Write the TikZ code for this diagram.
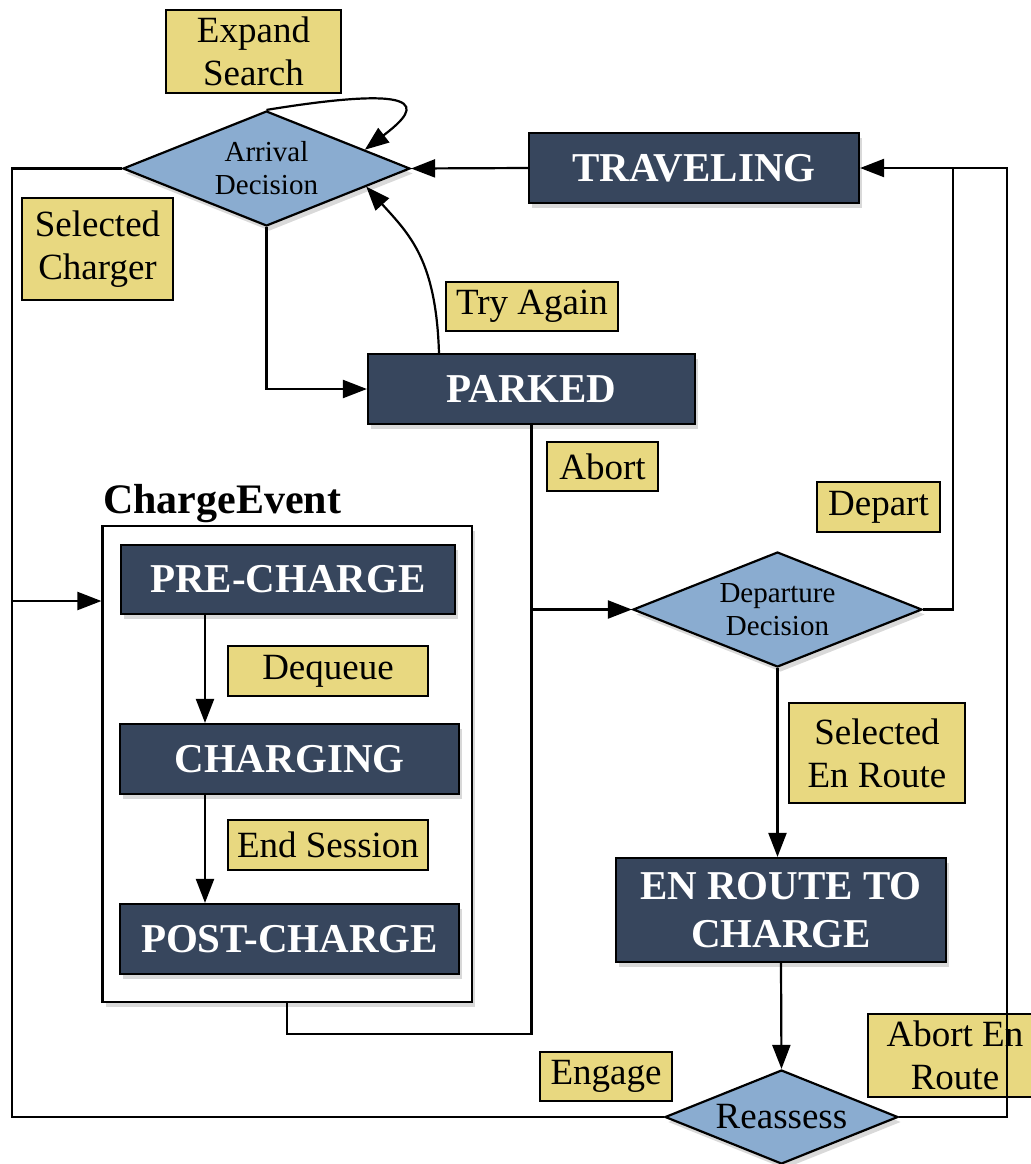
\documentclass[tikz,border=0pt]{standalone}
\usepackage{fontspec}
\setmainfont{Liberation Serif}
\usetikzlibrary{shapes.geometric,arrows.meta,shadows,calc}
\definecolor{navy}{RGB}{55,70,93}
\definecolor{skyblue}{RGB}{138,172,208}
\definecolor{sand}{RGB}{232,216,128}

\begin{document}
\begin{tikzpicture}[x=0.5pt,y=-0.5pt,line width=1.1pt,
  shadowed/.style={drop shadow={opacity=0.3,shadow xshift=1.5pt,shadow yshift=-2.5pt}},
  state/.style={rectangle,draw=black,fill=navy,text=white,inner sep=0pt,align=center,
    font=\fontsize{20.5}{24}\selectfont\bfseries,shadowed},
  decision/.style={diamond,draw=black,fill=skyblue,inner sep=0pt,aspect=2.5,align=center,
    font=\fontsize{14.5}{16.5}\selectfont,shadowed},
  lbl/.style={rectangle,draw=black,fill=sand,inner sep=0pt,align=center,
    font=\fontsize{18.5}{21.5}\selectfont},
  arr/.style={-{Triangle[length=12pt,width=9pt]}}]
\useasboundingbox (0,0) rectangle (1031,1164);

\node[lbl,minimum width=87.5pt,minimum height=41.5pt] (expand) at (253.5,51.5) {Expand\\Search};
\node[decision,minimum width=143.5pt,minimum height=57.5pt] (arrival) at (266.5,168.5) {Arrival\\Decision};
\node[lbl,minimum width=75.5pt,minimum height=51pt] (selcharger) at (97.5,249) {Selected\\Charger};
\node[state,minimum width=165pt,minimum height=35pt] (traveling) at (694,168) {TRAVELING};
\node[lbl,minimum width=86pt,minimum height=24.5pt] (tryagain) at (532,306.5) {Try Again};
\node[state,minimum width=163.5pt,minimum height=35pt] (parked) at (531.5,389) {PARKED};
\node[lbl,minimum width=55.5pt,minimum height=24.5pt] (abort) at (602.5,466.5) {Abort};
\node[lbl,minimum width=61.5pt,minimum height=25pt] (depart) at (878.5,507) {Depart};
\node[decision,minimum width=144.5pt,minimum height=57.5pt] (departure) at (777.5,609.5) {Departure\\Decision};

\node[anchor=base west,inner sep=0pt,font=\fontsize{21}{24}\selectfont\bfseries] (cetitle) at (102,513) {ChargeEvent};
\node[draw=black,fill=white,shadowed,minimum width=184.75pt,minimum height=238pt] (chargebox) at (287.25,764) {};
\node[state,minimum width=167pt,minimum height=34.5pt] (precharge) at (288,579.5) {PRE-CHARGE};
\node[lbl,minimum width=100pt,minimum height=25pt] (dequeue) at (328,671) {Dequeue};
\node[state,minimum width=169.5pt,minimum height=35pt] (charging) at (289.5,759) {CHARGING};
\node[lbl,minimum width=100pt,minimum height=25pt] (endsession) at (328,845) {End Session};
\node[state,minimum width=169.5pt,minimum height=35pt] (postcharge) at (289.5,939) {POST-CHARGE};

\node[lbl,minimum width=88pt,minimum height=50pt] (selenroute) at (877,753) {Selected\\En Route};
\node[state,minimum width=165pt,minimum height=52pt] (enroute) at (781,910) {EN ROUTE TO\\CHARGE};
\node[lbl,minimum width=66pt,minimum height=24.5pt] (engage) at (606,1076.5) {Engage};
\node[lbl,minimum width=87pt,minimum height=41.5pt] (abortenroute) at (955,1055.5) {Abort En\\Route};
\node[decision,font=\fontsize{18.5}{21}\selectfont,minimum width=116.5pt,minimum height=47pt] (reassess) at (781.5,1117) {Reassess};

\coordinate (lj) at (12,601);
\coordinate (pb) at (533,1034);
\coordinate (rj) at (1007,168);
\coordinate (dj) at (953,168);
\coordinate (loopend) at ($(arrival.north)!0.68!(arrival.east)$);
\coordinate (retry) at ($(arrival.east)!0.31!(arrival.south)$);

\draw (arrival.west) -| (lj);
\draw (reassess.west) -| (lj);
\draw[arr] (lj) -- (lj -| chargebox.west);
\draw[arr] (arrival.south) |- (parked.west);
\draw[arr] (arrival.north) .. controls (450,80) and (410,115) .. (loopend);
\draw[arr] ([xshift=-46.25pt]parked.north) .. controls (436,260) and (410,235) .. (retry);
\draw[arr] (traveling.west) -- (arrival.east);
\draw (parked.south) -- (parked.south |- pb) -| (chargebox.south);
\draw[arr] (parked.south |- departure.west) -- (departure.west);
\draw[arr] (reassess.east) -| (rj) -- (traveling.east);
\draw (departure.east) -| (dj);
\draw[arr] (departure.south) -- (departure.south |- enroute.north);
\draw[arr] (enroute.south) -- (reassess.north);
\draw[arr] (precharge.south -| 205,0) -- (charging.north -| 205,0);
\draw[arr] (charging.south -| 205,0) -- (postcharge.north -| 205,0);
\end{tikzpicture}
\end{document}
